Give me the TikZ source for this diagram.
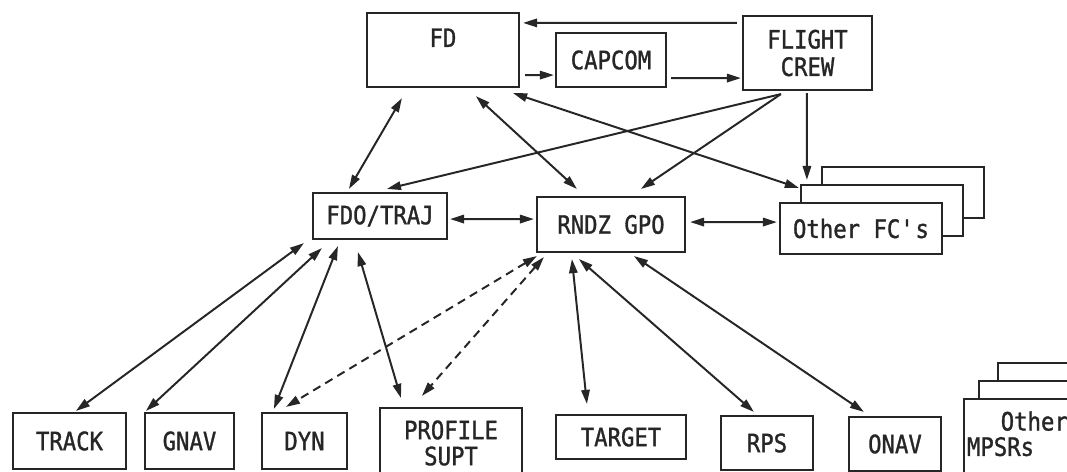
\documentclass[tikz,border=0pt]{standalone}
\usepackage{fontspec}
\setmainfont{DejaVu Sans Mono}[FakeStretch=0.88, FakeBold=1.2]
\usetikzlibrary{arrows.meta,calc}

\tikzset{
  box/.style={draw=black!85, line width=1.5pt, fill=white, inner sep=0pt, align=center,
    text=black!85, font=\fontsize{18}{19.5}\selectfont},
  link/.style={draw=black!85, line width=1.4pt,
    {Triangle[length=10pt,width=6pt]}-{Triangle[length=10pt,width=6pt]}},
  one/.style={draw=black!85, line width=1.4pt, -{Triangle[length=10pt,width=6pt]}},
  dashlink/.style={link, dash pattern=on 6pt off 4pt},
}

\begin{document}
\begin{tikzpicture}[x=0.025cm, y=-0.025cm]
	\useasboundingbox (0,0) rectangle (1067,472);
	% top row
	\node[box, anchor=base, text height=24.2pt, text depth=28.5pt, minimum width=3.8cm] (fd) at (443,47) {FD};
	\node[box, minimum width=2.75cm, minimum height=1.35cm] (capcom) at (611,60) {CAPCOM};
	\node[box, minimum width=3.225cm, minimum height=1.85cm] (crew) at (807.5,53) {FLIGHT\\CREW};
	% middle row
	\node[box, minimum width=3.35cm, minimum height=1.15cm] (fdo) at (380,216) {FDO/TRAJ};
	\node[box, minimum width=3.7cm, minimum height=1.375cm] (rndz) at (611,224.5) {RNDZ GPO};
	\node[box, minimum width=4.05cm, minimum height=1.275cm] (fc3) at (903,192.5) {};
	\node[box, minimum width=4.05cm, minimum height=1.275cm] (fc2) at (882,210.5) {};
	\node[box, minimum width=4.05cm, minimum height=1.275cm] (fc) at (861,228.5) {Other FC\textquotesingle s};
	% bottom row
	\node[box, minimum width=2.825cm, minimum height=1.4cm] (track) at (69.5,441) {TRACK};
	\node[box, minimum width=2.225cm, minimum height=1.4cm] (gnav) at (189.5,441) {GNAV};
	\node[box, minimum width=2.125cm, minimum height=1.4cm] (dyn) at (304.5,441) {DYN};
	\node[box, minimum width=3.55cm, minimum height=1.75cm, font=\fontsize{18}{18.5}\selectfont] (prof) at (451,443) {PROFILE\\SUPT};
	\node[box, minimum width=3.25cm, minimum height=1.1cm] (target) at (621,437) {TARGET};
	\node[box, minimum width=2.3cm, minimum height=1.35cm] (rps) at (767,443) {RPS};
	\node[box, minimum width=2.3cm, minimum height=1.35cm] (onav) at (895,444) {ONAV};
	\node[box, minimum width=3.65cm, minimum height=2.275cm] (mpsr3) at (1071,408.5) {};
	\node[box, minimum width=3.65cm, minimum height=2.275cm] (mpsr2) at (1052,426.5) {};
	\node[box, anchor=base west, inner xsep=2.1pt, text height=22.4pt, text depth=42.3pt] (mpsr) at (963,430.5)
		{\fontsize{18}{15.6}\selectfont\begin{tabular}[t]{@{}p{3.5cm}@{}}\hspace*{24pt}Other\\MPSRs\end{tabular}};
	% top links
	\draw[one] ($(crew.north west)+(-5,8)$) -- ($(fd.north east)+(3,11)$);
	\draw[one] ($(fd.south east)+(5,-13)$) -- ($(capcom.south west)+(-1,-13)$);
	\draw[one] ($(capcom.south east)+(4,-10)$) -- ($(crew.south west)+(-1,-13)$);
	\draw[link] ($(fd.south west)+(36,10)$) -- ($(fdo.north west)+(37,-3)$);
	\draw[link] ($(fd.south west)+(110,8)$) -- ($(rndz.north west)+(41,-7)$);
	\draw[link] ($(fd.south east)+(-7,5)$) -- ($(fc.north west)+(20,-14)$);
	\draw[one] ($(crew.south west)+(39,3)$) -- ($(fdo.north west)+(75,-3)$);
	\draw[one] ($(crew.south west)+(39,3)$) -- ($(rndz.north west)+(105,-7)$);
	\draw[one] ($(crew.south west)+(65,2)$) -- ($(fc.north west)+(28,-22)$);
	% middle links
	\draw[link] ($(fdo.south east)+(2,-21)$) -- ($(rndz.south west)+(-2,-34)$);
	\draw[link] ($(rndz.south east)+(4,-31)$) -- ($(fc.south west)+(-2,-33)$);
	% bottom links
	\draw[link] ($(fdo.south west)+(-8,3)$) -- ($(track.north west)+(64,-1)$);
	\draw[link] ($(fdo.south west)+(10,8)$) -- ($(gnav.north west)+(2,-1)$);
	\draw[link] ($(fdo.south west)+(26,6)$) -- ($(dyn.north west)+(13,-3)$);
	\draw[link] ($(fdo.south west)+(46,12)$) -- ($(prof.north west)+(22,-9)$);
	\draw[dashlink] ($(rndz.south west)+(1,3)$) -- ($(dyn.north west)+(25,-5)$);
	\draw[dashlink] ($(rndz.south west)+(8,4)$) -- ($(prof.north west)+(43,-11)$);
	\draw[link] ($(rndz.south west)+(36,6)$) -- ($(target.north west)+(32,-10)$);
	\draw[link] ($(rndz.south west)+(43,6)$) -- ($(rps.north west)+(34,-3)$);
	\draw[link] ($(rndz.south west)+(98,3)$) -- ($(onav.north west)+(16,-4)$);
\end{tikzpicture}
\end{document}
